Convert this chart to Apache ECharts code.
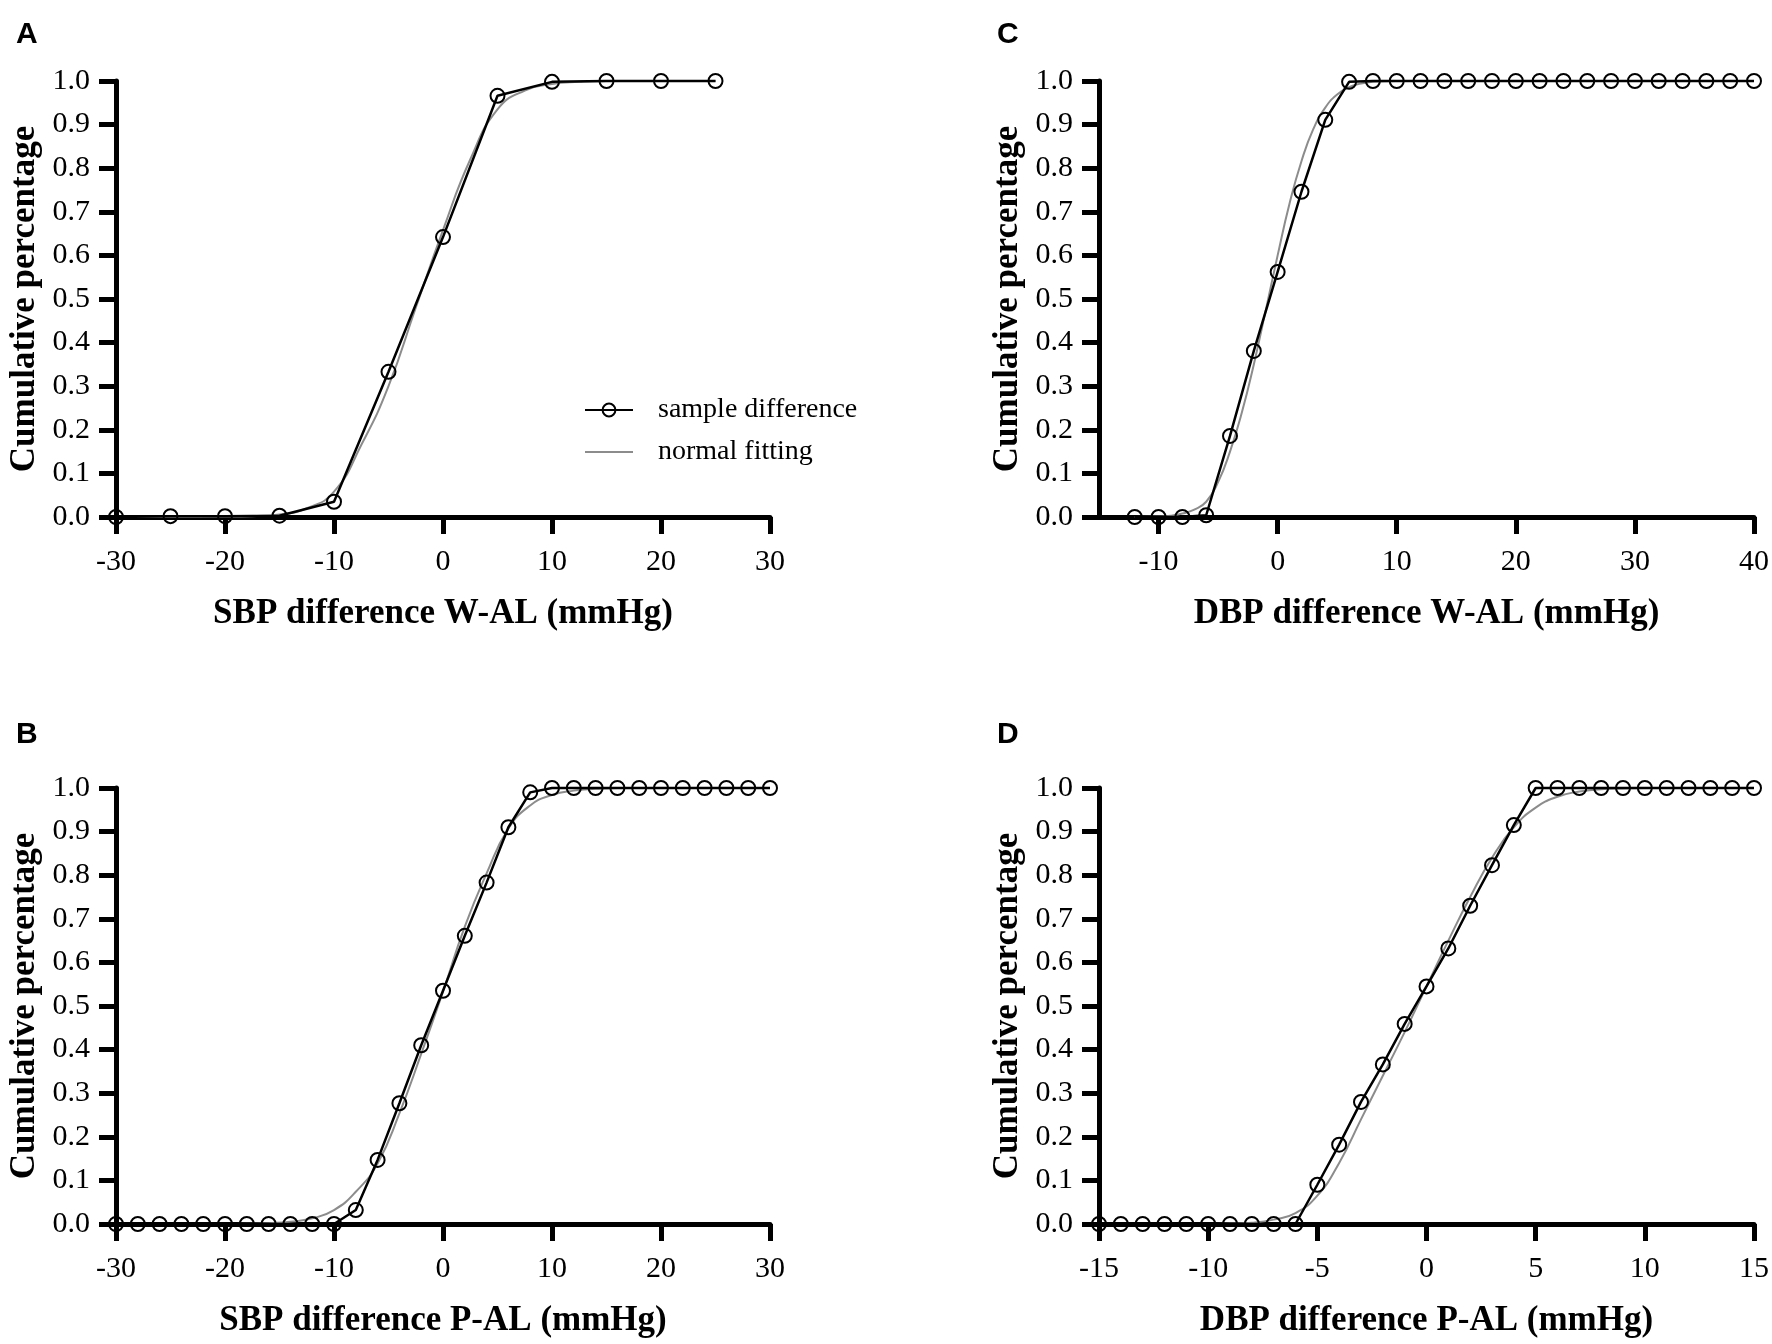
<!DOCTYPE html>
<html>
<head>
<meta charset="UTF-8">
<title>Cumulative percentage</title>
<style>
html, body { margin: 0; padding: 0; background: #fff; }
#chart { width: 1772px; height: 1344px; }
</style>
</head>
<body>
<div id="chart"></div>
<script src="https://cdn.jsdelivr.net/npm/echarts@6/dist/echarts.min.js"></script>
<script>
// A: SBP difference W-AL
var sbpWX = [-30, -25, -20, -15, -10, -5, 0, 5, 10, 15, 20, 25];
var sbpWY = [0, 0.002, 0.002, 0.003, 0.035, 0.333, 0.642, 0.966, 0.998, 1, 1, 1];
var sbpWFitX = [-30, -25, -20, -17.5, -15, -12.5, -10, -7.5, -5, -2.5, 0, 2.5, 5, 7.5, 10, 12.5, 15, 20, 25];
var sbpWFitY = [0, 0, 0.0005, 0.002, 0.006, 0.02, 0.058, 0.165, 0.3, 0.48, 0.658, 0.82, 0.935, 0.978, 0.993, 0.998, 1, 1, 1];

// C: DBP difference W-AL
var dbpWX = [-12, -10, -8, -6, -4, -2, 0, 2, 4, 6, 8, 10, 12, 14, 16, 18, 20, 22, 24, 26, 28, 30, 32, 34, 36, 38, 40];
var dbpWY = [0, 0, 0, 0.004, 0.186, 0.381, 0.562, 0.746, 0.911, 0.998, 1, 1, 1, 1, 1, 1, 1, 1, 1, 1, 1, 1, 1, 1, 1, 1, 1];
var dbpWFitX = [-12, -10, -9, -8, -7, -6, -5, -4, -3, -2, -1, 0, 1, 2, 3, 4, 5, 6, 7, 8, 10, 15, 20, 30, 40];
var dbpWFitY = [0, 0.001, 0.003, 0.008, 0.017, 0.035, 0.08, 0.15, 0.24, 0.35, 0.474, 0.6, 0.719, 0.816, 0.89, 0.939, 0.969, 0.986, 0.994, 0.998, 1, 1, 1, 1, 1];

// B: SBP difference P-AL
var sbpPX = [-30, -28, -26, -24, -22, -20, -18, -16, -14, -12, -10, -8, -6, -4, -2, 0, 2, 4, 6, 8, 10, 12, 14, 16, 18, 20, 22, 24, 26, 28, 30];
var sbpPY = [0, 0, 0, 0, 0, 0, 0, 0, 0, 0, 0, 0.032, 0.147, 0.277, 0.41, 0.535, 0.661, 0.783, 0.91, 0.99, 1, 1, 1, 1, 1, 1, 1, 1, 1, 1, 1];
var sbpPFitX = [-30, -25, -20, -18, -16, -14, -12, -10, -8, -6, -4, -2, 0, 2, 4, 6, 8, 10, 12, 14, 16, 20, 25, 30];
var sbpPFitY = [0, 0, 0, 0.0005, 0.002, 0.005, 0.013, 0.032, 0.074, 0.139, 0.254, 0.39, 0.533, 0.682, 0.804, 0.907, 0.96, 0.984, 0.994, 0.998, 1, 1, 1, 1];

// D: DBP difference P-AL
var dbpPX = [-15, -14, -13, -12, -11, -10, -9, -8, -7, -6, -5, -4, -3, -2, -1, 0, 1, 2, 3, 4, 5, 6, 7, 8, 9, 10, 11, 12, 13, 14, 15];
var dbpPY = [0, 0, 0, 0, 0, 0, 0, 0, 0, 0, 0.09, 0.182, 0.28, 0.366, 0.459, 0.545, 0.632, 0.73, 0.823, 0.915, 1, 1, 1, 1, 1, 1, 1, 1, 1, 1, 1];
var dbpPFitX = [-15, -12, -10, -9, -8, -7, -6, -5, -4, -3, -2, -1, 0, 1, 2, 3, 4, 5, 6, 7, 8, 9, 10, 12, 15];
var dbpPFitY = [0, 0, 0, 0.001, 0.003, 0.01, 0.025, 0.065, 0.14, 0.24, 0.34, 0.44, 0.545, 0.65, 0.75, 0.84, 0.91, 0.955, 0.98, 0.992, 0.997, 0.999, 1, 1, 1];

var xTitles = ['SBP difference W-AL (mmHg)', 'DBP difference W-AL (mmHg)', 'SBP difference P-AL (mmHg)', 'DBP difference P-AL (mmHg)'];
var yTitle = 'Cumulative percentage';
var panelLetters = ['A', 'C', 'B', 'D'];

function pairs(xs, ys) {
	return xs.map(function (x, i) { return [x, ys[i]]; });
}

var serif = 'Liberation Serif';
var grids = [
	{left: 116, top: 81, width: 654, height: 436},
	{left: 1099, top: 81, width: 655, height: 436},
	{left: 116, top: 788, width: 654, height: 436},
	{left: 1099, top: 788, width: 655, height: 436}
];

function xAxis(i, min, max, interval, custom) {
	var ax = {
		type: 'value', gridIndex: i, min: min, max: max,
		name: xTitles[i], nameLocation: 'middle', nameGap: 79,
		nameTextStyle: {fontFamily: serif, fontWeight: 'bold', fontSize: 35, color: '#000'},
		axisLine: {show: true, onZero: false, lineStyle: {color: '#000', width: 5}},
		axisTick: {show: true, length: 17, lineStyle: {color: '#000', width: 5}},
		axisLabel: {color: '#000', fontFamily: serif, fontSize: 30, margin: 30},
		splitLine: {show: false}
	};
	if (interval) ax.interval = interval;
	if (custom) {
		ax.axisTick.customValues = custom;
		ax.axisLabel.customValues = custom;
	}
	return ax;
}

function yAxis(i) {
	return {
		type: 'value', gridIndex: i, min: 0, max: 1, interval: 0.1,
		name: yTitle, nameLocation: 'middle', nameGap: 74,
		nameTextStyle: {fontFamily: serif, fontWeight: 'bold', fontSize: 35, color: '#000'},
		axisLine: {show: true, onZero: false, lineStyle: {color: '#000', width: 5}},
		axisTick: {show: true, length: 17, lineStyle: {color: '#000', width: 5}},
		axisLabel: {color: '#000', fontFamily: serif, fontSize: 30, margin: 26,
			formatter: function (v) { return v.toFixed(1); }},
		splitLine: {show: false}
	};
}

function fitSeries(i, xs, ys) {
	return {
		name: 'normal fitting', type: 'line', xAxisIndex: i, yAxisIndex: i,
		data: pairs(xs, ys), smooth: 0.5, symbol: 'none',
		clip: false, z: 2,
		lineStyle: {color: '#8c8c8c', width: 2},
		itemStyle: {color: '#8c8c8c'}
	};
}

function sampleSeries(i, xs, ys) {
	return {
		name: 'sample difference', type: 'line', xAxisIndex: i, yAxisIndex: i,
		data: pairs(xs, ys), symbol: 'circle', symbolSize: 14, showSymbol: true,
		clip: false, z: 3,
		lineStyle: {color: '#000', width: 2.5},
		itemStyle: {color: 'rgba(255,255,255,0)', borderColor: '#000', borderWidth: 2}
	};
}

var chart = echarts.init(document.getElementById('chart'));

chart.setOption({
	backgroundColor: '#fff',
	animation: false,
	title: [
		{text: panelLetters[0], left: 16, top: 20},
		{text: panelLetters[1], left: 997, top: 20},
		{text: panelLetters[2], left: 16, top: 720},
		{text: panelLetters[3], left: 997, top: 720}
	].map(function (t) {
		t.padding = 0;
		t.textStyle = {fontFamily: 'Liberation Sans', fontWeight: 'bold', fontSize: 30, color: '#000'};
		return t;
	}),
	legend: {
		data: [
			{name: 'sample difference'},
			{name: 'normal fitting', itemStyle: {opacity: 0}}
		],
		orient: 'vertical', left: 579, top: 391,
		itemWidth: 48, itemHeight: 16, itemGap: 14,
		textStyle: {fontFamily: serif, fontSize: 28, color: '#000', padding: [0, 0, 0, 20]}
	},
	grid: grids,
	xAxis: [
		xAxis(0, -30, 30, 10),
		xAxis(1, -15, 40, null, [-10, 0, 10, 20, 30, 40]),
		xAxis(2, -30, 30, 10),
		xAxis(3, -15, 15, 5)
	],
	yAxis: [yAxis(0), yAxis(1), yAxis(2), yAxis(3)],
	series: [
		fitSeries(0, sbpWFitX, sbpWFitY),
		sampleSeries(0, sbpWX, sbpWY),
		fitSeries(1, dbpWFitX, dbpWFitY),
		sampleSeries(1, dbpWX, dbpWY),
		fitSeries(2, sbpPFitX, sbpPFitY),
		sampleSeries(2, sbpPX, sbpPY),
		fitSeries(3, dbpPFitX, dbpPFitY),
		sampleSeries(3, dbpPX, dbpPY)
	]
});
</script>
</body>
</html>
